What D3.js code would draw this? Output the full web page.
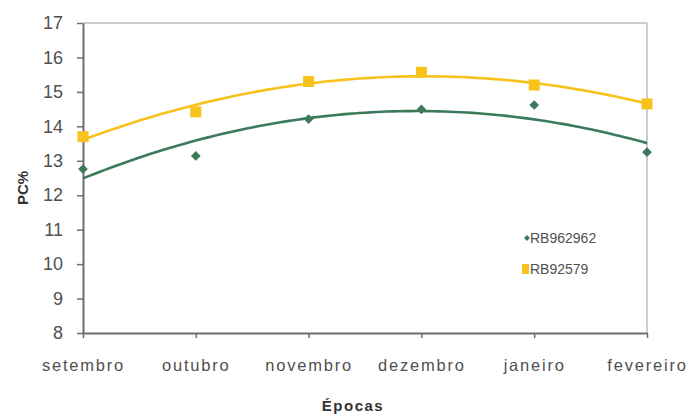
<!DOCTYPE html>
<html>
<head>
<meta charset="utf-8">
<script src="https://cdn.jsdelivr.net/npm/d3@7"></script>
<style>
  html, body { margin: 0; padding: 0; background: #fff; }
  svg { display: block; }
  text { font-family: "Liberation Sans", Arial, sans-serif; }
</style>
</head>
<body>
<svg id="chart" width="689" height="415"></svg>
<script>
// Months (épocas) on the x axis
const categories = ["setembro", "outubro", "novembro", "dezembro", "janeiro", "fevereiro"];

// PC% per month for each variety
const rb962962 = [12.76, 13.14, 14.21, 14.49, 14.62, 13.25];
const rb92579  = [13.70, 14.42, 15.30, 15.57, 15.20, 14.65];

const yTicks = [8, 9, 10, 11, 12, 13, 14, 15, 16, 17];

const series = [
  { name: "RB962962", values: rb962962, color: "#3b7a5a", shape: "diamond" },
  { name: "RB92579",  values: rb92579,  color: "#f7c21b", shape: "square" }
];

const W = 689, H = 415;
const margin = { top: 23, right: 42, bottom: 82, left: 83 };
const iw = W - margin.left - margin.right;
const ih = H - margin.top - margin.bottom;

const svg = d3.select("#chart");
const g = svg.append("g").attr("transform", `translate(${margin.left},${margin.top})`);

const x = d3.scalePoint().domain(categories).range([0, iw]).padding(0);
const y = d3.scaleLinear().domain([8, 17]).range([ih, 0]);

// Second-order polynomial least-squares fit (trend line)
function quadFit(vals) {
  const n = vals.length;
  const xs = d3.range(n);
  let s = [0, 0, 0, 0, 0], t = [0, 0, 0];
  xs.forEach((xi, i) => {
    for (let k = 0; k < 5; k++) s[k] += Math.pow(xi, k);
    for (let k = 0; k < 3; k++) t[k] += Math.pow(xi, k) * vals[i];
  });
  // Solve 3x3 normal equations with Cramer's rule
  const M = [[s[0], s[1], s[2]], [s[1], s[2], s[3]], [s[2], s[3], s[4]]];
  const det = m => m[0][0] * (m[1][1] * m[2][2] - m[1][2] * m[2][1])
                 - m[0][1] * (m[1][0] * m[2][2] - m[1][2] * m[2][0])
                 + m[0][2] * (m[1][0] * m[2][1] - m[1][1] * m[2][0]);
  const D = det(M);
  const coef = [0, 1, 2].map(c => det(M.map((row, r) => row.map((v, j) => j === c ? t[r] : v))) / D);
  return xi => coef[0] + coef[1] * xi + coef[2] * xi * xi;
}

const step = x.step();
const xAt = xi => xi * step;

// Plot frame: light top/right borders
g.append("line").attr("x1", 0).attr("x2", iw).attr("y1", 0).attr("y2", 0)
  .attr("stroke", "#bdbdbd").attr("stroke-width", 1.5);
g.append("line").attr("x1", iw).attr("x2", iw).attr("y1", 0).attr("y2", ih)
  .attr("stroke", "#bdbdbd").attr("stroke-width", 1.5);

// Y axis
const yAxis = g.append("g")
  .call(d3.axisLeft(y).tickValues(yTicks).tickSize(6).tickPadding(14).tickSizeOuter(0));
yAxis.select(".domain").attr("stroke", "#6e6e6e").attr("stroke-width", 2);
yAxis.selectAll(".tick line").attr("stroke", "#6e6e6e").attr("stroke-width", 1.5);
yAxis.selectAll(".tick text").attr("font-size", 18).attr("fill", "#505050")
  .attr("font-family", "'Liberation Sans', Arial, sans-serif");

// X axis
const xAxis = g.append("g").attr("transform", `translate(0,${ih})`)
  .call(d3.axisBottom(x).tickSize(5).tickPadding(21).tickSizeOuter(0));
xAxis.select(".domain").attr("stroke", "#6e6e6e").attr("stroke-width", 2);
xAxis.selectAll(".tick line").attr("stroke", "#6e6e6e").attr("stroke-width", 1.5);
xAxis.selectAll(".tick text").attr("font-size", 16.5).attr("fill", "#505050")
  .attr("letter-spacing", "1.8px")
  .attr("font-family", "'Liberation Sans', Arial, sans-serif");

// Trend lines
const line = d3.line().x(d => d[0]).y(d => d[1]);
series.forEach(s => {
  const f = quadFit(s.values);
  const pts = d3.range(0, s.values.length - 1 + 1e-9, 0.05).map(xi => [xAt(xi), y(f(xi))]);
  g.append("path").attr("d", line(pts)).attr("fill", "none")
    .attr("stroke", s.color).attr("stroke-width", 2.6);
});

// Markers
const diamond = d3.symbol().type(d3.symbolDiamond2).size(60);
series.forEach(s => {
  const m = g.append("g");
  s.values.forEach((v, i) => {
    const cx = x(categories[i]), cy = y(v);
    if (s.shape === "square") {
      m.append("rect").attr("x", cx - 5.5).attr("y", cy - 5.5).attr("width", 11).attr("height", 11)
        .attr("fill", s.color);
    } else {
      m.append("path").attr("d", diamond()).attr("transform", `translate(${cx},${cy})`)
        .attr("fill", s.color);
    }
  });
});

// Legend
const legend = svg.append("g").attr("transform", "translate(527,238)");
series.forEach((s, i) => {
  const row = legend.append("g").attr("transform", `translate(0,${i * 31})`);
  if (s.shape === "square") {
    row.append("rect").attr("x", -5).attr("y", -5).attr("width", 7).attr("height", 10).attr("fill", s.color);
  } else {
    row.append("path").attr("d", d3.symbol().type(d3.symbolDiamond2).size(22)()).attr("fill", s.color);
  }
  row.append("text").attr("x", 3).attr("y", 5).attr("font-size", 14).attr("fill", "#505050")
    .text(s.name);
});

// Axis titles
svg.append("text").attr("transform", "translate(28,188) rotate(-90)")
  .attr("text-anchor", "middle").attr("font-size", 15).attr("font-weight", "bold").attr("fill", "#333")
  .text("PC%");
svg.append("text").attr("x", 353).attr("y", 411)
  .attr("text-anchor", "middle").attr("font-size", 15).attr("font-weight", "bold").attr("fill", "#333")
  .attr("letter-spacing", "1.5px")
  .text("Épocas");
</script>
</body>
</html>
